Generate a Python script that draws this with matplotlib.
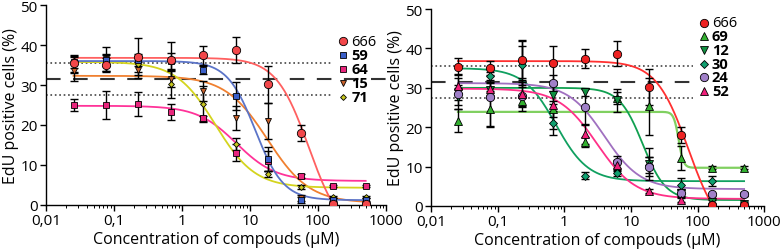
import numpy as np
import matplotlib.pyplot as plt
from matplotlib.ticker import FixedLocator, FixedFormatter, LogLocator, NullFormatter

plt.rcParams['font.family'] = ['Open Sans', 'DejaVu Sans']

# concentracoes (uM), diluicao 1:3
conc = [0.0254, 0.0762, 0.229, 0.686, 2.06, 6.17, 18.5, 55.6, 166.7, 500]

# composto 666 (referencia, nos dois graficos)
y666 = [35.4, 35.0, 37.1, 36.2, 37.4, 38.7, 30.2, 18.1, 0.2, 0.2]
e666 = [2.2, 1.8, 4.7, 4.5, 2.4, 3.2, 4.6, 2.0, 0.3, 0.3]

# grafico esquerdo
y59 = [35.8, 36.3, 36.2, 36.0, 33.7, 27.3, 11.4, 1.2, 1.2, 1.2]
e59 = [1.5, 1.5, 1.5, 2.0, 1.0, 3.5, 3.0, 0.7, 0.5, 0.5]
y64 = [25.0, 25.0, 25.2, 23.2, 21.7, 13.1, 11.0, 7.3, 4.8, 4.8]
e64 = [1.5, 3.4, 3.0, 2.0, 0.6, 2.2, 2.5, 0.5, 0.3, 0.3]
y15 = [33.4, 36.5, 33.8, 31.6, 28.5, 21.8, 21.1, 1.8, 0.6, 0.6]
e15 = [2.5, 3.0, 2.0, 2.0, 2.5, 3.0, 4.5, 0.8, 0.3, 0.3]
y71 = [35.0, 35.4, 35.2, 30.3, 25.2, 15.2, 7.7, 4.5, 2.0, 2.0]
e71 = [2.0, 2.0, 2.0, 3.5, 4.5, 1.5, 0.7, 0.5, 0.3, 0.3]

# grafico direito
y69 = [21.7, 24.7, 26.6, 24.7, 16.2, 27.4, 25.3, 12.2, 9.7, 9.7]
e69 = [3.0, 4.5, 1.5, 2.0, 1.2, 1.5, 7.3, 3.0, 0.4, 0.4]
y12 = [27.6, 29.4, 36.1, 28.3, 28.9, 26.8, 10.6, 3.4, 1.0, 0.6]
e12 = [3.0, 2.0, 6.0, 2.5, 1.0, 3.0, 4.0, 1.0, 0.4, 0.3]
y30 = [29.6, 33.1, 35.7, 21.1, 7.7, 8.3, 10.4, 5.2, 6.3, 3.0]
e30 = [4.0, 1.0, 5.0, 3.0, 0.8, 0.8, 2.0, 2.0, 1.2, 0.5]
y24 = [28.5, 27.6, 28.0, 31.3, 25.1, 11.1, 10.0, 3.3, 3.0, 3.0]
e24 = [1.5, 7.5, 4.0, 2.0, 4.5, 1.5, 2.5, 0.8, 0.4, 0.4]
y52 = [30.5, 29.7, 28.4, 25.6, 18.2, 10.3, 3.8, 1.5, 0.5, 0.5]
e52 = [2.0, 1.5, 3.0, 6.0, 2.5, 1.5, 0.5, 0.5, 0.3, 0.3]

# parametros do ajuste (topo, base, EC50, hill)
fit666 = [36.8, -8.0, 73.0, 1.8]
fit59 = [36.0, 1.2, 12.0, 2.1]
fit64 = [24.8, 6.0, 6.3, 1.5]
fit15 = [32.3, 0.5, 18.0, 1.4]
fit71 = [35.8, 4.3, 3.1, 1.5]
fit69 = [23.9, 9.7, 52.0, 12.0]
fit12 = [30.0, 1.5, 15.0, 2.5]
fit30 = [35.0, 6.3, 0.75, 1.8]
fit24 = [31.2, 4.3, 4.0, 1.6]
fit52 = [29.8, 1.8, 3.1, 1.5]

ticks = [0.01, 0.1, 1, 10, 100, 1000]
tick_labels = ['0,01', '0,1', '1', '10', '100', '1000']


def logistica(x, p):
    topo, base, ec50, hill = p
    return base + (topo - base) / (1 + (x / ec50) ** hill)


def Serie(ax, y, err, fit, cor_linha, cor, marker, ms, lw=1.3):
    xs = np.logspace(np.log10(conc[0]), np.log10(conc[-1]), 300)
    ax.plot(xs, logistica(xs, fit), color=cor_linha, lw=lw, zorder=2)
    ax.errorbar(conc, y, yerr=err, fmt='none', ecolor='black', elinewidth=1.0,
                capsize=3, capthick=1.0, zorder=3)
    ax.plot(conc, y, linestyle='none', marker=marker, ms=ms, mfc=cor,
            mec='black', mew=0.6, zorder=4)


def Eixo(ax, fim_ponto, fim_traco):
    ax.set_xscale('log')
    ax.set_xlim(0.01, 1000)
    ax.set_ylim(0, 50)
    ax.spines['top'].set_visible(False)
    ax.spines['right'].set_visible(False)
    ax.spines['left'].set_linewidth(1.0)
    ax.spines['bottom'].set_linewidth(1.0)
    ax.xaxis.set_major_locator(FixedLocator(ticks))
    ax.xaxis.set_major_formatter(FixedFormatter(tick_labels))
    ax.xaxis.set_minor_locator(LogLocator(base=10, subs=np.arange(2, 10)))
    ax.xaxis.set_minor_formatter(NullFormatter())
    ax.set_yticks([0, 10, 20, 30, 40, 50])
    ax.tick_params(axis='both', which='major', length=4, width=1.0,
                   labelsize=11, pad=2)
    ax.tick_params(axis='x', which='minor', length=2, width=0.7)
    ax.set_xlabel('Concentration of compouds (μM)', fontsize=11.5, labelpad=2)
    ax.set_ylabel('EdU positive cells (%)', fontsize=11.5, labelpad=1)
    ax.axhline(35.5, xmax=fim_ponto, color='#444444', ls=':', lw=1.2, zorder=1)
    ax.axhline(27.5, xmax=fim_ponto, color='#444444', ls=':', lw=1.2, zorder=1)
    ax.axhline(31.5, xmax=fim_traco, color='#333333', lw=1.5, dashes=(7, 6),
               zorder=1)


def Legenda(ax, itens, x0, y0, dy):
    for i, (nome, cor, marker, ms, peso) in enumerate(itens):
        yy = y0 - i * dy
        ax.plot([x0], [yy], transform=ax.transAxes, marker=marker, ms=ms,
                mfc=cor, mec='black', mew=0.6, ls='none', clip_on=False)
        ax.text(x0 + 0.025, yy, nome, transform=ax.transAxes, fontsize=10.5,
                fontweight=peso, va='center', ha='left')


fig = plt.figure(figsize=(7.82, 2.53), dpi=100, facecolor='white')
ax1 = fig.add_axes([0.0588, 0.186, 0.435, 0.79])
ax2 = fig.add_axes([0.5512, 0.182, 0.426, 0.778])

Eixo(ax1, 0.845, 1.0)
Serie(ax1, y64, e64, fit64, '#ff3399', '#e8267c', 's', 4)
Serie(ax1, y15, e15, fit15, '#f08030', '#c8602a', 'v', 4.2)
Serie(ax1, y71, e71, fit71, '#d4d41e', '#c8c820', 'D', 3)
Serie(ax1, y59, e59, fit59, '#5b74c8', '#3a5fc8', 's', 4)
Serie(ax1, y666, e666, fit666, '#ff6060', '#f2474a', 'o', 6)
Legenda(ax1, [('666', '#f2474a', 'o', 6, 'normal'),
              ('59', '#3a5fc8', 's', 4, 'bold'),
              ('64', '#e8267c', 's', 4, 'bold'),
              ('15', '#c8602a', 'v', 4.2, 'bold'),
              ('71', '#c8c820', 'D', 3, 'bold')], 0.873, 0.82, 0.07)

Eixo(ax2, 0.787, 0.79)
Serie(ax2, y69, e69, fit69, '#80d060', '#33b030', '^', 5.5, lw=1.6)
Serie(ax2, y12, e12, fit12, '#10a050', '#109040', 'v', 5.5)
Serie(ax2, y30, e30, fit30, '#10a060', '#10a070', 'D', 4)
Serie(ax2, y24, e24, fit24, '#a070c0', '#a080c8', 'o', 6)
Serie(ax2, y52, e52, fit52, '#ff3088', '#f0207a', '^', 5.5)
Serie(ax2, y666, e666, fit666, '#ff3030', '#ee2222', 'o', 6)
Legenda(ax2, [('666', '#ee2222', 'o', 6, 'normal'),
              ('69', '#33b030', '^', 5.5, 'bold'),
              ('12', '#109040', 'v', 5.5, 'bold'),
              ('30', '#10a070', 'D', 4, 'bold'),
              ('24', '#a080c8', 'o', 6, 'bold'),
              ('52', '#f0207a', '^', 5.5, 'bold')], 0.818, 0.93, 0.069)

plt.savefig('out.png', dpi=100, facecolor='white')
